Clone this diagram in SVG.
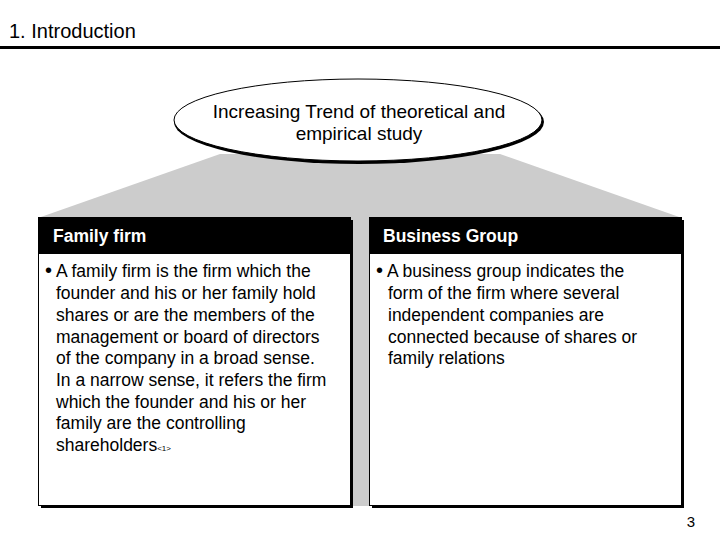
<svg xmlns="http://www.w3.org/2000/svg" width="720" height="540" viewBox="0 0 720 540">
<style>
text{font-family:"Liberation Sans",Arial,sans-serif;fill:#000}
.h{font-weight:bold;font-size:17.5px;fill:#fff}
.b{font-size:17.5px}
.box{fill:#fff;stroke:#000;stroke-width:1}
.sh{fill:#000}
</style>
<rect width="720" height="540" fill="#fff"/>
<text x="9" y="38" font-size="20">1. Introduction</text>
<rect x="0" y="46" width="720" height="3" fill="#000"/>
<g id="connectors">
<polygon points="220,154 500,154 682,218 682,506 38,506 38,218" fill="#cccccc"/>
</g>
<g id="topic">
<ellipse cx="359" cy="122" rx="185" ry="42" fill="#000"/>
<ellipse cx="358" cy="120" rx="184" ry="41" fill="#fff" stroke="#000" stroke-width="1"/>
<text x="359" y="118" font-size="19" text-anchor="middle">Increasing Trend of theoretical and</text>
<text x="359" y="140" font-size="19" text-anchor="middle">empirical study</text>
</g>
<g id="family">
<rect class="sh" x="41" y="220" width="312" height="288"/>
<rect class="box" x="38.5" y="217.5" width="312" height="288"/>
<rect x="38" y="217" width="313" height="37" fill="#000"/>
<text class="h" x="53" y="242">Family firm</text>
<text class="b" x="45" y="277"><tspan font-size="20">•</tspan> A family firm is the firm which the</text>
<text class="b" x="56" y="299">founder and his or her family hold</text>
<text class="b" x="56" y="321">shares or are the members of the</text>
<text class="b" x="56" y="343">management or board of directors</text>
<text class="b" x="56" y="364">of the company in a broad sense.</text>
<text class="b" x="56" y="386">In a narrow sense, it refers the firm</text>
<text class="b" x="56" y="408">which the founder and his or her</text>
<text class="b" x="56" y="429">family are the controlling</text>
<text class="b" x="56" y="451">shareholders<tspan font-size="8">&lt;1&gt;</tspan></text>
</g>
<g id="business">
<rect class="sh" x="372" y="220" width="312" height="288"/>
<rect class="box" x="369.5" y="217.5" width="312" height="288"/>
<rect x="369" y="217" width="313" height="37" fill="#000"/>
<text class="h" x="383" y="242">Business Group</text>
<text class="b" x="376" y="277"><tspan font-size="20">•</tspan> A business group indicates the</text>
<text class="b" x="388" y="299">form of the firm where several</text>
<text class="b" x="388" y="321">independent companies are</text>
<text class="b" x="388" y="343">connected because of shares or</text>
<text class="b" x="388" y="364">family relations</text>
</g>
<text x="695" y="527" font-size="15" text-anchor="end">3</text>
</svg>
